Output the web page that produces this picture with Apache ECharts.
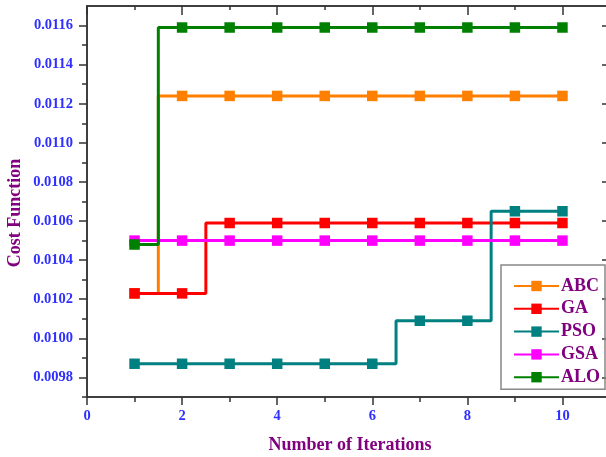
<!DOCTYPE html>
<html><head><meta charset="utf-8">
<script src="https://cdn.jsdelivr.net/npm/echarts@6/dist/echarts.min.js"></script>
<style>html,body{margin:0;padding:0;background:#fff;overflow:hidden}#c{width:606px;height:457px}</style>
</head><body><div id="c"></div>
<script>
const iterations = [1, 2, 3, 4, 5, 6, 7, 8, 9, 10];
const seriesNames = ['ABC', 'GA', 'PSO', 'GSA', 'ALO'];
const abc = [0.01023, 0.01124, 0.01124, 0.01124, 0.01124, 0.01124, 0.01124, 0.01124, 0.01124, 0.01124];
const ga  = [0.01023, 0.01023, 0.01059, 0.01059, 0.01059, 0.01059, 0.01059, 0.01059, 0.01059, 0.01059];
const pso = [0.00987, 0.00987, 0.00987, 0.00987, 0.00987, 0.00987, 0.01009, 0.01009, 0.01065, 0.01065];
const gsa = [0.01050, 0.01050, 0.01050, 0.01050, 0.01050, 0.01050, 0.01050, 0.01050, 0.01050, 0.01050];
const alo = [0.01048, 0.01159, 0.01159, 0.01159, 0.01159, 0.01159, 0.01159, 0.01159, 0.01159, 0.01159];
const xMajorTicks = [0, 2, 4, 6, 8, 10];
const xMinorTicks = [1, 3, 5, 7, 9, 11];
const yMajorTicks = [0.0098, 0.0100, 0.0102, 0.0104, 0.0106, 0.0108, 0.0110, 0.0112, 0.0114, 0.0116];
const yMinorTicks = [0.0097, 0.0099, 0.0101, 0.0103, 0.0105, 0.0107, 0.0109, 0.0111, 0.0113, 0.0115];
const colors = ['#ff8000', '#ff0000', '#008080', '#ff00ff', '#008000'];
const values = [abc, ga, pso, gsa, alo];

const FONT = '"Liberation Serif", "Times New Roman", serif';
const AX = '#333';
const XMIN = 0, XMAX = 11, YMIN = 0.0097, YMAX = 0.0117;

function xAx(pos, ticks, len, inside, labels) {
  return {
    type: 'value', position: pos, min: XMIN, max: XMAX,
    axisLine: { show: true, onZero: false, lineStyle: { color: AX, width: 1.5 } },
    axisTick: { show: true, inside: inside, length: len, customValues: ticks, lineStyle: { color: AX, width: 1.5 } },
    axisLabel: labels ? { show: true, customValues: ticks, margin: 12, color: '#2f2fff', fontFamily: FONT, fontWeight: 'bold', fontSize: 14.5 } : { show: false },
    splitLine: { show: false }
  };
}
function yAx(pos, ticks, len, inside, labels) {
  return {
    type: 'value', position: pos, min: YMIN, max: YMAX,
    axisLine: { show: true, onZero: false, lineStyle: { color: AX, width: 1.5 } },
    axisTick: { show: true, inside: inside, length: len, customValues: ticks, lineStyle: { color: AX, width: 1.5 } },
    axisLabel: labels ? { show: true, customValues: ticks, margin: 14, color: '#2f2fff', fontFamily: FONT, fontWeight: 'bold', fontSize: 14.5, formatter: v => v.toFixed(4) } : { show: false },
    splitLine: { show: false }
  };
}

const chart = echarts.init(document.getElementById('c'), null, { renderer: 'canvas' });
chart.setOption({
  animation: false,
  backgroundColor: '#fff',
  grid: { left: 87, top: 6, width: 523, height: 391, containLabel: false, outerBoundsMode: 'none' },
  xAxis: [
    xAx('bottom', xMajorTicks, 8, false, true),
    xAx('bottom', xMinorTicks, 5, false, false),
    xAx('top', xMajorTicks, 9, true, false),
    xAx('top', xMinorTicks, 4, true, false)
  ],
  yAxis: [
    yAx('left', yMajorTicks, 8, false, true),
    yAx('left', yMinorTicks, 5, false, false),
    yAx('right', yMajorTicks, 8, true, false),
    yAx('right', yMinorTicks, 4, true, false)
  ],
  legend: {
    orient: 'vertical', left: 501, top: 265,
    data: seriesNames,
    itemWidth: 45, itemHeight: 13, itemGap: 4.8,
    padding: [12, 5, 3, 12],
    borderColor: '#888', borderWidth: 1.5, borderRadius: 0,
    textStyle: { color: '#800080', fontFamily: FONT, fontWeight: 'bold', fontSize: 18, lineHeight: 18, padding: [0, 0, 0, -3] }
  },
  graphic: [
    { type: 'text', x: 15, y: 213, rotation: Math.PI / 2,
      style: { text: 'Cost Function', fill: '#800080', font: 'bold 18px ' + FONT, align: 'center', verticalAlign: 'middle' } },
    { type: 'text', x: 350, y: 445,
      style: { text: 'Number of Iterations', fill: '#800080', font: 'bold 18px ' + FONT, align: 'center', verticalAlign: 'middle' } }
  ],
  series: seriesNames.map((n, i) => ({
    name: n, type: 'line', step: 'middle',
    xAxisIndex: 0, yAxisIndex: 0,
    data: iterations.map((x, j) => [x, values[i][j]]),
    symbol: 'rect', symbolSize: 10.5,
    color: colors[i],
    lineStyle: { width: 3, color: colors[i] },
    itemStyle: { color: colors[i] },
    z: 2 + i
  }))
});
</script></body></html>
